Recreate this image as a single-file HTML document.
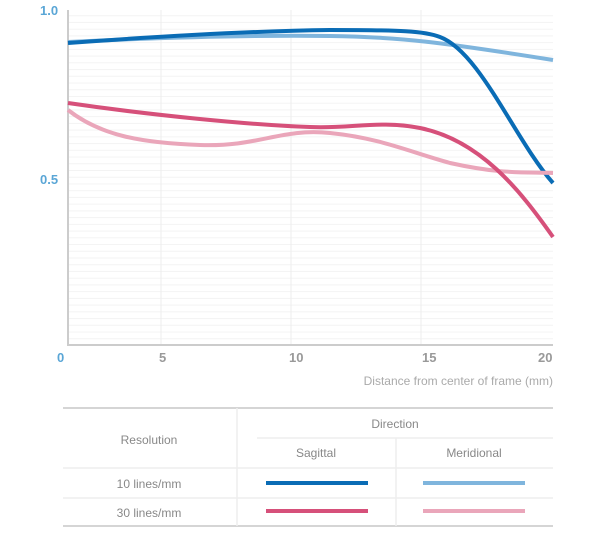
<!DOCTYPE html><html><head><style>body{margin:0;background:#fff;width:604px;height:550px;overflow:hidden}</style></head><body>
<svg width="604" height="550" xmlns="http://www.w3.org/2000/svg" font-family="Liberation Sans, sans-serif">
<defs><pattern id="p" patternUnits="userSpaceOnUse" x="0" y="345" width="604" height="6.73"><line x1="0" x2="604" y1="0.5" y2="0.5" stroke="#f3f3f3" stroke-width="1"/></pattern></defs>
<rect x="68" y="14" width="485" height="331" fill="url(#p)"/>
<g stroke="#ededed" stroke-width="1"><line x1="161" x2="161" y1="10" y2="345"/><line x1="291" x2="291" y1="10" y2="345"/><line x1="421" x2="421" y1="10" y2="345"/></g>
<line x1="68" y1="10" x2="68" y2="345" stroke="#cccccc" stroke-width="2"/>
<line x1="67" y1="345" x2="553" y2="345" stroke="#cccccc" stroke-width="2"/>
<g fill="none" stroke-width="4" stroke-linecap="butt">
<path d="M68,42 C150,38 250,35 330,36 C400,37 440,42 553,60" stroke="#7fb5dd"/>
<path d="M68,43 C150,37 250,31 330,30 C400,30 425,31 440,37 C480,52 515,140 553,183" stroke="#0a6cb5"/>
<path d="M68,110 C100,135 140,143 200,145 C260,147 280,128 330,133 C380,138 410,152 450,163 C500,174 520,172 553,173" stroke="#eaa6ba"/>
<path d="M68,103 C150,115 250,125 310,127 C350,129 380,120 420,128 C480,140 520,190 553,237" stroke="#d6507a"/>
</g>
<g font-size="13" font-weight="bold" fill="#999">
<text x="40" y="15" fill="#5aa6d6">1.0</text>
<text x="40" y="184" fill="#5aa6d6">0.5</text>
<text x="57" y="362" fill="#5aa6d6">0</text>
<text x="159" y="362">5</text>
<text x="289" y="362">10</text>
<text x="422" y="362">15</text>
<text x="538" y="362">20</text>
</g>
<text x="553" y="385" font-size="12" fill="#aaa" text-anchor="end">Distance from center of frame (mm)</text>
<g stroke="#d5d5d5" stroke-width="2"><line x1="63" x2="553" y1="408" y2="408"/><line x1="63" x2="553" y1="526" y2="526"/></g>
<g stroke="#eeeeee" stroke-width="1.5">
<line x1="237" x2="237" y1="408" y2="526"/><line x1="257" x2="553" y1="438" y2="438"/>
<line x1="396" x2="396" y1="438" y2="526"/>
<line x1="63" x2="553" y1="468" y2="468"/><line x1="63" x2="553" y1="498" y2="498"/></g>
<g font-size="12" fill="#888" text-anchor="middle">
<text x="149" y="444">Resolution</text>
<text x="395" y="428">Direction</text>
<text x="316" y="457">Sagittal</text>
<text x="474" y="457">Meridional</text>
<text x="149" y="488">10 lines/mm</text>
<text x="149" y="517">30 lines/mm</text>
</g>
<g stroke-width="4"><line x1="266" x2="368" y1="483" y2="483" stroke="#0a6cb5"/><line x1="423" x2="525" y1="483" y2="483" stroke="#7fb5dd"/>
<line x1="266" x2="368" y1="511" y2="511" stroke="#d6507a"/><line x1="423" x2="525" y1="511" y2="511" stroke="#eaa6ba"/></g>
</svg></body></html>
